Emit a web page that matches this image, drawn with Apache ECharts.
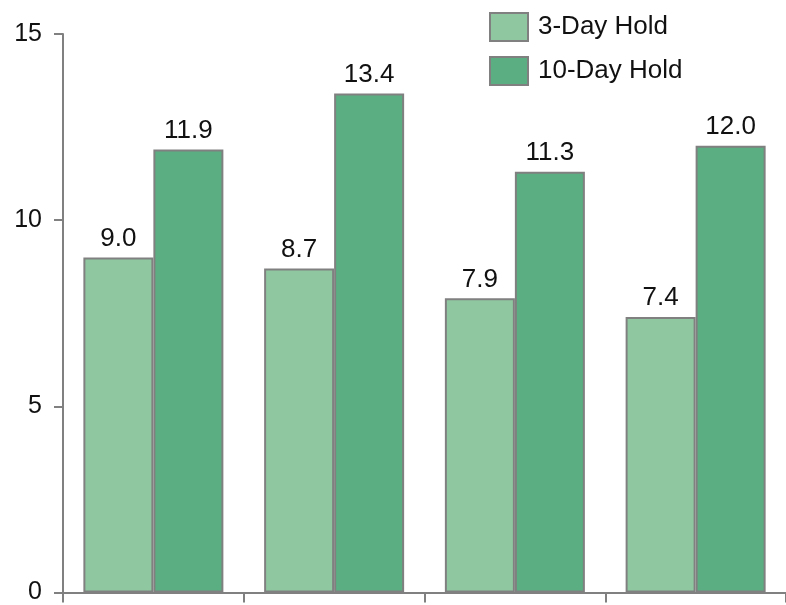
<!DOCTYPE html>
<html><head><meta charset="utf-8">
<script src="https://cdn.jsdelivr.net/npm/echarts@6/dist/echarts.min.js"></script>
<style>html,body{margin:0;padding:0;background:#fff}#c{width:786px;height:605px}</style>
</head><body><div id="c"></div>
<script>
const categories = ['1', '2', '3', '4'];
const seriesNames = ['3-Day Hold', '10-Day Hold'];
const hold3 = [9.0, 8.7, 7.9, 7.4];
const hold10 = [11.9, 13.4, 11.3, 12.0];
const yTicks = [0, 5, 10, 15];

const chart = echarts.init(document.getElementById('c'), null, {renderer: 'canvas'});
const font = 'Liberation Sans, Arial, sans-serif';
const border = '#808080';
function mk(name, data, color) {
  return {
    name: name, type: 'bar', data: data, barWidth: 70, barGap: '0%',
    itemStyle: {color: color, borderColor: border, borderWidth: 2},
    label: {show: true, position: 'top', distance: 6, fontSize: 26, fontFamily: font, color: '#111',
      formatter: p => p.value.toFixed(1)}
  };
}
chart.setOption({
  animation: false,
  grid: {left: 63, top: 34, bottom: 9.5, right: -3, containLabel: false},
  legend: {
    orient: 'vertical', left: 489, top: 12, padding: 0, itemWidth: 38, itemHeight: 28, itemGap: 14,
    icon: 'rect',
    textStyle: {fontSize: 26, fontFamily: font, color: '#111', padding: [2, 0, 0, 5]},
    data: seriesNames
  },
  xAxis: {
    type: 'category', data: categories,
    axisLine: {lineStyle: {color: border, width: 2}},
    axisTick: {show: true, length: 10, alignWithLabel: false, lineStyle: {color: border, width: 2}},
    axisLabel: {show: false}, splitLine: {show: false}
  },
  yAxis: {
    type: 'value', min: yTicks[0], max: yTicks[yTicks.length - 1], interval: 5,
    axisLine: {show: true, lineStyle: {color: border, width: 2}},
    axisTick: {show: true, length: 9, lineStyle: {color: border, width: 2}},
    axisLabel: {fontSize: 25, fontFamily: font, color: '#111', margin: 21},
    splitLine: {show: false}
  },
  series: [mk(seriesNames[0], hold3, '#8fc8a0'), mk(seriesNames[1], hold10, '#5aae82')]
});
</script></body></html>
